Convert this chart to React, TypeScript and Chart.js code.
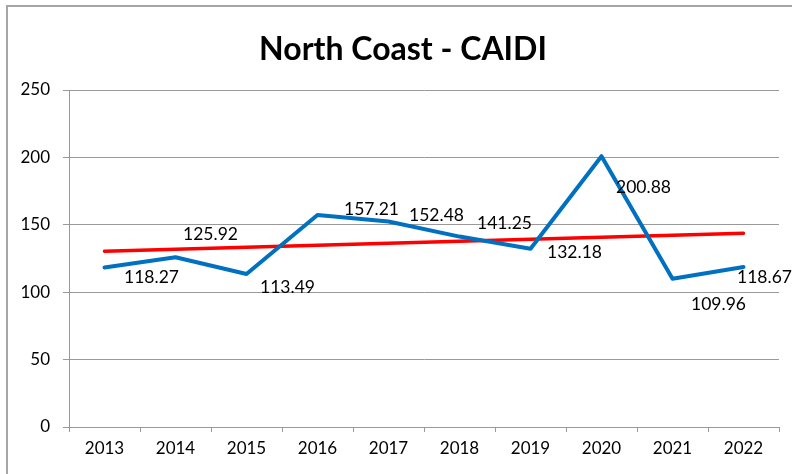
import React, { useEffect, useRef } from "react";
import { Chart, registerables } from "chart.js";

Chart.register(...registerables);

const years = ["2013", "2014", "2015", "2016", "2017", "2018", "2019", "2020", "2021", "2022"];
const caidi = [118.27, 125.92, 113.49, 157.21, 152.48, 141.25, 132.18, 200.88, 109.96, 118.67];
const yTicks = [0, 50, 100, 150, 200, 250];
const titleText = "North Coast - CAIDI";

// label placement (offset of label centre from its point, in px)
const labelOffsets: [number, number][] = [
  [47, 10], [35, -23], [41, 13], [54, -6], [48, -6.5],
  [45, -13], [44, 4], [42, 31], [46, 26], [21, 10],
];

// linear trend line (least squares) computed from the series
function trend(values: number[]): number[] {
  const n = values.length;
  const mx = (n - 1) / 2;
  const my = values.reduce((a, b) => a + b, 0) / n;
  let sxy = 0, sxx = 0;
  values.forEach((v, i) => { sxy += (i - mx) * (v - my); sxx += (i - mx) * (i - mx); });
  const b = sxy / sxx;
  return values.map((_, i) => my + b * (i - mx));
}

const FONT = "Lato, 'Open Sans', sans-serif";

export default function App() {
  const ref = useRef<HTMLCanvasElement | null>(null);
  useEffect(() => {
    document.body.style.margin = "0";
    const canvas = ref.current!;
    const frame = {
      id: "frame",
      beforeDraw(chart: any) {
        const ctx = chart.ctx;
        ctx.save();
        ctx.fillStyle = "#ffffff";
        ctx.fillRect(0, 0, chart.width, chart.height);
        ctx.strokeStyle = "#a6a6a6";
        ctx.lineWidth = 2;
        ctx.strokeRect(7, 6, 900, 600);
        ctx.fillStyle = "#000";
        ctx.font = `bold 32px ${FONT}`;
        ctx.textAlign = "center";
        ctx.textBaseline = "middle";
        ctx.fillText(titleText, 403, 50);
        ctx.restore();
      },
      afterDatasetsDraw(chart: any) {
        const ctx = chart.ctx;
        const meta = chart.getDatasetMeta(0);
        ctx.save();
        ctx.fillStyle = "#000";
        ctx.font = `17.5px ${FONT}`;
        ctx.textAlign = "center";
        ctx.textBaseline = "middle";
        meta.data.forEach((pt: any, i: number) => {
          const [dx, dy] = labelOffsets[i];
          ctx.fillText(caidi[i].toFixed(2), pt.x + dx, pt.y + dy);
        });
        ctx.restore();
      },
    };
    const chart = new Chart(canvas, {
      type: "line",
      data: {
        labels: years,
        datasets: [
          {
            data: caidi,
            borderColor: "#0070C0",
            borderWidth: 4,
            pointRadius: 0,
            tension: 0,
            borderCapStyle: "round",
            borderJoinStyle: "round",
          },
          {
            data: trend(caidi),
            borderColor: "#FF0000",
            borderWidth: 3.5,
            pointRadius: 0,
            tension: 0,
            borderCapStyle: "round",
          },
        ],
      },
      options: {
        animation: false,
        responsive: false,
        layout: { padding: { top: 90, right: 13, bottom: 0, left: 0 } },
        plugins: { legend: { display: false }, tooltip: { enabled: false }, title: { display: false } },
        scales: {
          x: {
            offset: true,
            grid: { offset: true, drawOnChartArea: false, drawTicks: true, tickLength: 5, color: "#999999" },
            border: { color: "#999999", width: 1 },
            ticks: { color: "#000", font: { family: FONT, size: 17 }, padding: 6, maxRotation: 0 },
            afterFit(scale: any) { scale.height = 47; },
          },
          y: {
            min: 0,
            max: 250,
            afterBuildTicks(scale: any) { scale.ticks = yTicks.map((v) => ({ value: v })); },
            grid: { color: "#999999", tickLength: 6, drawTicks: true },
            border: { color: "#999999", width: 1 },
            ticks: { color: "#000", font: { family: FONT, size: 17 }, padding: 13 },
            afterFit(scale: any) { scale.width = 69; },
          },
        },
      },
      plugins: [frame],
    } as any);
    return () => chart.destroy();
  }, []);
  return (
    <div style={{ width: 792, height: 474 }}>
      <canvas ref={ref} width={792} height={474} style={{ display: "block" }} />
    </div>
  );
}
